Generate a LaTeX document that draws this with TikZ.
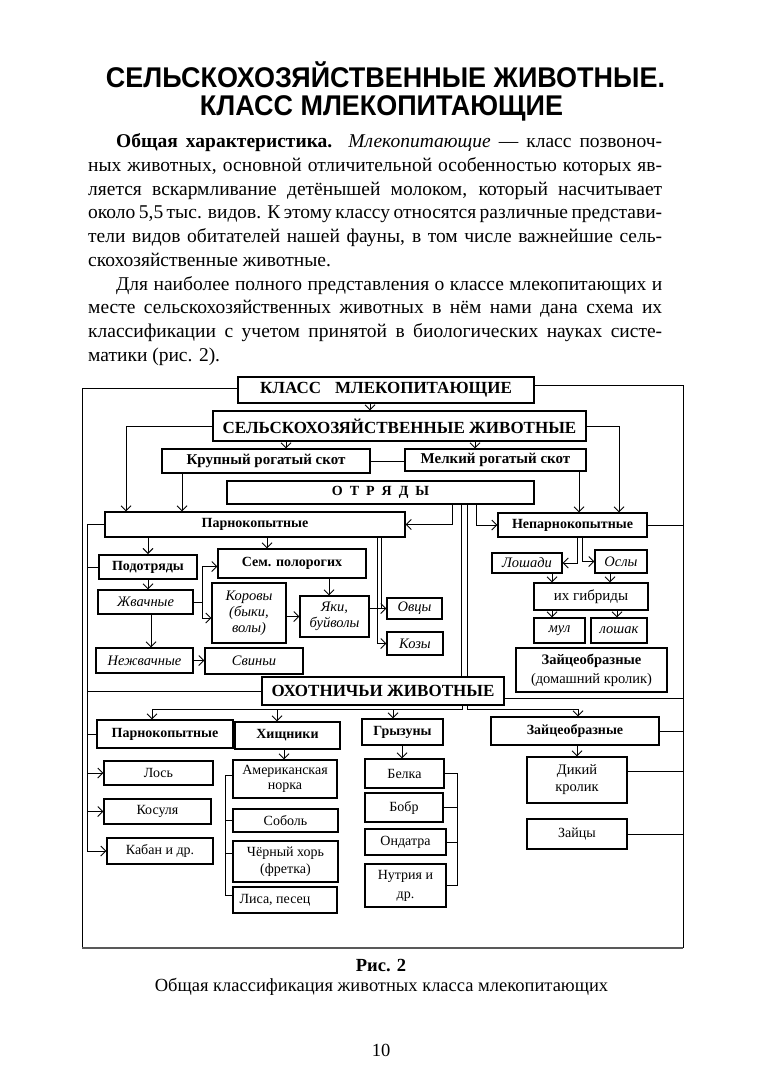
\documentclass[tikz,border=0pt]{standalone}
\usepackage{fontspec}
\setmainfont{Liberation Serif}
\newfontfamily\ttlfont{Liberation Sans Bold}
\usetikzlibrary{arrows.meta}
\newcommand\fBody{\fontsize{19.5}{23.75}\selectfont}
\newcommand\fTtl{\ttlfont\fontsize{28.5}{30}\selectfont}
\newcommand\fBig{\fontsize{17}{19}\selectfont\bfseries}
\newcommand\fMed{\fontsize{15}{17}\selectfont\bfseries}
\newcommand\fSm{\fontsize{14}{16}\selectfont\bfseries}
\newcommand\fIt{\fontsize{14.5}{16}\selectfont\itshape}
\newcommand\fReg{\fontsize{14}{16}\selectfont}
\newcommand\fCap{\fontsize{18.5}{21}\selectfont}
\begin{document}
\begin{tikzpicture}[x=1pt,y=-1pt,
  bx/.style={draw, line width=1.1pt, inner sep=0pt, align=center, fill=white},
  ln/.style={line width=1pt},
  arr/.style={-{Straight Barb[length=5pt,width=10pt]}},
  txt/.style={inner sep=0pt, font=\fBody}]
\fill[white] (0,0) rectangle (763,1079);
\useasboundingbox (0,0) rectangle (763,1079);
% Title
\node[anchor=base, inner sep=0pt, font=\fTtl] (ttl1) at (385.5,87) {\resizebox{559pt}{\height}{СЕЛЬСКОХОЗЯЙСТВЕННЫЕ ЖИВОТНЫЕ.}};
\node[anchor=base, inner sep=0pt, font=\fTtl] (ttl2) at (381.5,115) {\resizebox{363pt}{\height}{КЛАСС МЛЕКОПИТАЮЩИЕ}};
% Body text
\node[txt, anchor=base west] (l1) at (116,147.5) {\makebox[546pt][s]{\textbf{Общая характеристика.} \textit{Млекопитающие} — класс позвоноч-}};
\node[txt, anchor=base west] (l2) at (88,171.3) {\makebox[574pt][s]{ных животных, основной отличительной особенностью которых яв-}};
\node[txt, anchor=base west] (l3) at (88,195) {\makebox[574pt][s]{ляется вскармливание детёнышей молоком, который насчитывает}};
\node[txt, anchor=base west] (l4) at (88,218.8) {\makebox[574pt][s]{около 5,5 тыс. видов. К этому классу относятся различные представи-}};
\node[txt, anchor=base west] (l5) at (88,242.5) {\makebox[574pt][s]{тели видов обитателей нашей фауны, в том числе важнейшие сель-}};
\node[txt, anchor=base west] (l6) at (88,266.3) {скохозяйственные животные.};
\node[txt, anchor=base west] (l7) at (116,290) {\makebox[546pt][s]{Для наиболее полного представления о классе млекопитающих и}};
\node[txt, anchor=base west] (l8) at (88,313.8) {\makebox[574pt][s]{месте сельскохозяйственных животных в нём нами дана схема их}};
\node[txt, anchor=base west] (l9) at (88,337.5) {\makebox[574pt][s]{классификации с учетом принятой в биологических науках систе-}};
\node[txt, anchor=base west] (l10) at (88,361.3) {матики (рис. 2).};
% Frame corners
\coordinate (fTL) at (82,388);
\coordinate (fTR) at (683,385);
\coordinate (fBL) at (82,948);
\coordinate (fBR) at (683,948);
% Boxes
\node[bx, minimum width=296pt, minimum height=26pt, font=\fBig] (klass) at (386,390) {КЛАСС\hspace{14pt}МЛЕКОПИТАЮЩИЕ};
\node[bx, minimum width=373pt, minimum height=30pt, font=\fBig] (selh) at (399.5,426) {СЕЛЬСКОХОЗЯЙСТВЕННЫЕ ЖИВОТНЫЕ};
\node[bx, minimum width=208pt, minimum height=24pt, font=\fMed] (krs) at (266,461) {\raisebox{-2pt}{Крупный рогатый скот}};
\node[bx, minimum width=181pt, minimum height=22pt, font=\fMed] (mrs) at (495.5,460) {Мелкий рогатый скот};
\node[bx, minimum width=307pt, minimum height=23pt, font=\fSm] (otr) at (380.5,492.5) {О\hspace{7pt}Т\hspace{7pt}Р\hspace{7pt}Я\hspace{7pt}Д\hspace{7pt}Ы};
\node[bx, minimum width=300pt, minimum height=25pt, font=\fSm] (parno) at (255,524.5) {Парнокопытные};
\node[bx, minimum width=149pt, minimum height=24pt, font=\fSm] (nepar) at (572.5,525) {Непарнокопытные};
\node[bx, line width=1.8pt, minimum width=98pt, minimum height=24pt, font=\fSm] (podot) at (148,567) {Подотряды};
\node[bx, minimum width=148pt, minimum height=29pt, font=\fSm] (sem) at (292,563.5) {Сем. полорогих};
\node[bx, minimum width=95pt, minimum height=24pt, font=\fIt] (zhv) at (145.5,602) {Жвачные};
\node[bx, minimum width=97pt, minimum height=25pt, font=\fIt] (nezhv) at (144.5,660.5) {Нежвачные};
\node[bx, minimum width=98pt, minimum height=26pt, font=\fIt] (svin) at (254,661) {Свиньи};
\node[bx, minimum width=74pt, minimum height=60pt, font=\fIt] (korov) at (249,613) {Коровы\\(быки,\\волы)};
\node[bx, minimum width=69pt, minimum height=41pt, font=\fIt] (yaki) at (334.5,616.5) {Яки,\\буйволы};
\node[bx, minimum width=55pt, minimum height=21pt, font=\fIt] (ovcy) at (414.5,608.5) {Овцы};
\node[bx, minimum width=56pt, minimum height=23pt, font=\fIt] (kozy) at (415,643.5) {Козы};
\node[bx, minimum width=70pt, minimum height=20pt, font=\fIt] (losh) at (527,563) {Лошади};
\node[bx, minimum width=52pt, minimum height=23pt, font=\fIt] (osly) at (621,561.5) {Ослы};
\node[bx, minimum width=114pt, minimum height=27pt, font=\fontsize{15}{17}\selectfont] (gibr) at (591,596.5) {их гибриды};
\node[bx, minimum width=51pt, minimum height=25pt, font=\fIt] (mul) at (559.5,630.5) {мул};
\node[bx, minimum width=56pt, minimum height=25pt, font=\fIt] (loshak) at (619,630.5) {лошак};
\node[bx, minimum width=151pt, minimum height=44pt, font=\fontsize{14.5}{19}\selectfont] (zdom) at (591.5,670) {\textbf{Зайцеобразные}\\(домашний кролик)};
\node[bx, minimum width=242pt, minimum height=28pt, font=\fBig] (ohot) at (383,691) {ОХОТНИЧЬИ ЖИВОТНЫЕ};
\node[bx, minimum width=136pt, minimum height=28pt, font=\fSm] (hparno) at (165,734) {Парнокопытные};
\node[bx, minimum width=105pt, minimum height=27pt, font=\fSm] (hisch) at (287.5,735.5) {Хищники};
\node[bx, minimum width=81pt, minimum height=26pt, font=\fSm] (gryz) at (402.5,732) {Грызуны};
\node[bx, minimum width=168pt, minimum height=28pt, font=\fSm] (zaic) at (575,731) {Зайцеобразные};
\node[bx, minimum width=109pt, minimum height=24pt, font=\fReg] (los) at (158.5,773) {Лось};
\node[bx, minimum width=107pt, minimum height=25pt, font=\fReg] (kos) at (157.5,811.5) {Косуля};
\node[bx, minimum width=106pt, minimum height=26pt, font=\fReg] (kab) at (160,851) {Кабан и др.};
\node[bx, minimum width=104pt, minimum height=38pt, font=\fontsize{14}{15}\selectfont] (amer) at (285,779) {Американская\\норка};
\node[bx, minimum width=105pt, minimum height=23pt, font=\fReg] (sob) at (285.5,820.5) {Соболь};
\node[bx, minimum width=105pt, minimum height=41pt, font=\fontsize{14}{17}\selectfont] (hor) at (285.5,861.5) {Чёрный хорь\\(фретка)};
\node[bx, minimum width=104pt, minimum height=26pt, font=\fReg] (lisa) at (285,900) {Лиса, песец\hspace{20pt}};
\node[bx, minimum width=79pt, minimum height=29pt, font=\fReg] (belka) at (404.5,773.5) {Белка};
\node[bx, minimum width=78pt, minimum height=29pt, font=\fReg] (bobr) at (404,807.5) {Бобр};
\node[bx, minimum width=81pt, minimum height=26pt, font=\fReg] (ondat) at (405.5,842) {Ондатра};
\node[bx, minimum width=81pt, minimum height=43pt, font=\fontsize{14}{19}\selectfont] (nutr) at (405.5,885.5) {Нутрия и\\др.};
\node[bx, minimum width=100pt, minimum height=46pt, font=\fontsize{14.5}{17}\selectfont] (dikiy) at (577,780) {Дикий\\кролик};
\node[bx, minimum width=100pt, minimum height=30pt, font=\fReg] (zaicy) at (577,834) {Зайцы};
% Frame
\draw[ln] (klass.west |- fTL) -- (fTL) -- (fBL);
\draw[ln] (klass.east |- fTR) -- (fTR) -- (fBR);
\draw[line width=1.6pt, black!65] (fBL) -- (fBR);
% Top connectors
\draw[ln,arr] (370,0 |- klass.south) -- (370,0 |- selh.north);
\draw[ln,arr] (286,0 |- selh.south) -- (286,0 |- krs.north);
\draw[ln,arr] (475,0 |- selh.south) -- (475,0 |- mrs.north);
\draw[ln,arr] (selh.west) -- (126,0 |- selh.west) -- (126,0 |- parno.north);
\draw[ln,arr] (selh.east) -- (619,0 |- selh.east) -- (619,0 |- nepar.north);
\draw[ln] (krs.east) -- (krs.east -| mrs.west);
\draw[ln,arr] (182,0 |- krs.south) -- (182,0 |- parno.north);
\draw[ln,arr] (579,0 |- mrs.south) -- (579,0 |- nepar.north);
\draw[ln,arr] (452,0 |- otr.south) -- (452,0 |- parno.east) -- (parno.east);
\draw[ln,arr] (476,0 |- otr.south) -- (476,0 |- nepar.west) -- (nepar.west);
\draw[ln] (461,0 |- otr.south) -- (461,0 |- ohot.north);
\draw[ln] (467,0 |- otr.south) -- (467,0 |- ohot.north);
% left spine
\draw[ln] (parno.west) -- (87,0 |- parno.west) -- (87,0 |- kab.west);
\draw[ln] (87,0 |- podot.west) -- (podot.west);
\draw[ln] (87,0 |- ohot.west) -- (ohot.west);
\draw[ln] (87,0 |- hparno.west) -- (hparno.west);
\draw[ln,arr] (87,0 |- los.west) -- (los.west);
\draw[ln,arr] (87,0 |- kos.west) -- (kos.west);
\draw[ln,arr] (87,0 |- kab.west) -- (kab.west);
% Parnokopytnye subtree
\coordinate (semw) at ([yshift=-3pt]sem.west);
\coordinate (korw) at ([yshift=-5pt]korov.west);
\draw[ln,arr] (148,0 |- parno.south) -- (148,0 |- podot.north);
\draw[ln,arr] (267,0 |- parno.south) -- (267,0 |- sem.north);
\draw[ln,arr] (148,0 |- podot.south) -- (148,0 |- zhv.north);
\draw[ln] (zhv.east) -- (202,0 |- zhv.east);
\draw[ln,arr] (202,0 |- zhv.east) -- (202,0 |- semw) -- (semw);
\draw[ln,arr] (202,0 |- zhv.east) -- (202,0 |- korw) -- (korw);
\draw[ln,arr] (151,0 |- zhv.south) -- (151,0 |- nezhv.north);
\draw[ln,arr] (nezhv.east) -- (nezhv.east -| svin.west);
\draw[ln,arr] (korov.east |- yaki.west) -- (yaki.west);
\draw[ln,arr] (329,0 |- sem.south) -- (329,0 |- yaki.north);
\draw[ln,arr] (381,0 |- parno.south) -- (381,0 |- ovcy.west) -- (ovcy.west);
\draw[ln] (yaki.east |- ovcy.west) -- (381,0 |- ovcy.west);
\draw[ln,arr] (377,0 |- parno.south) -- (377,0 |- kozy.west) -- (kozy.west);
% Neparnokopytnye subtree
\draw[ln,arr] (577,0 |- nepar.south) -- (577,0 |- losh.east) -- (losh.east);
\draw[ln,arr] (582,0 |- nepar.south) -- (582,0 |- osly.west) -- (osly.west);
\draw[ln,arr] (552,0 |- losh.south) -- (552,0 |- gibr.north);
\draw[ln,arr] (610,0 |- osly.south) -- (610,0 |- gibr.north);
\draw[ln,arr] (552,0 |- gibr.south) -- (552,0 |- mul.north);
\draw[ln,arr] (617,0 |- gibr.south) -- (617,0 |- loshak.north);
\draw[ln] (nepar.east) -- (nepar.east -| fBR);
% Ohotnichi
\coordinate (oe) at ([yshift=-7pt]ohot.east);
\draw[ln] (oe) -- (oe -| fBR);
\coordinate (busL) at (462,709);
\coordinate (busR) at (467,709);
\draw[ln] (462,0 |- ohot.south) -- (busL) -- (152,0 |- busL);
\draw[ln,arr] (152,0 |- busL) -- (152,0 |- hparno.north);
\draw[ln,arr] (277,0 |- busL) -- (277,0 |- hisch.north);
\draw[ln,arr] (393,0 |- busL) -- (393,0 |- gryz.north);
\draw[ln,arr] (467,0 |- ohot.south) -- (busR) -- (578,0 |- busR) -- (578,0 |- zaic.north);
% Hishchniki
\coordinate (amw) at ([yshift=4pt]amer.west);
\coordinate (hrw) at ([yshift=8.5pt]hor.west);
\coordinate (lsw) at ([yshift=5pt]lisa.west);
\draw[ln,arr] (284,0 |- hisch.south) -- (284,0 |- amer.north);
\draw[ln] (amw) -- (225,0 |- amw) -- (225,0 |- lsw) -- (lsw);
\draw[ln] (225,0 |- sob.west) -- (sob.west);
\draw[ln] (225,0 |- hrw) -- (hrw);
% Gryzuny
\draw[ln,arr] (402,0 |- gryz.south) -- (402,0 |- belka.north);
\draw[ln] (belka.east) -- (457,0 |- belka.east) -- (457,0 |- nutr.east) -- (nutr.east);
\draw[ln] (bobr.east) -- (457,0 |- bobr.east);
\draw[ln] (ondat.east) -- (457,0 |- ondat.east);
% Zaitseobraznye
\coordinate (dke) at ([yshift=9pt]dikiy.east);
\draw[ln] (zaic.east) -- (zaic.east -| fBR);
\draw[ln,arr] (577,0 |- zaic.south) -- (577,0 |- dikiy.north);
\draw[ln] (dke) -- (dke -| fBR);
\draw[ln] (zaicy.east) -- (zaicy.east -| fBR);
% Caption
\node[anchor=base, inner sep=0pt, font=\fCap\bfseries] (ris) at (381,971) {Рис. 2};
\node[anchor=base, inner sep=0pt, font=\fCap] (cap) at (381.5,991) {Общая классификация животных класса млекопитающих};
\node[anchor=base, inner sep=0pt, font=\fCap] (pg) at (381,1056) {10};
\end{tikzpicture}
\end{document}
